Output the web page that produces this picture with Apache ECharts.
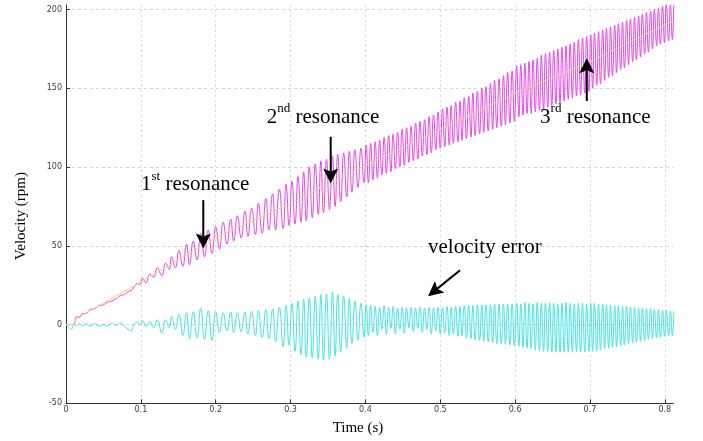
<!DOCTYPE html>
<html><head><meta charset="utf-8">
<script src="https://cdn.jsdelivr.net/npm/echarts@6/dist/echarts.min.js"></script>
<style>html,body{margin:0;padding:0;background:#fff}#main{width:703px;height:441px}</style>
</head><body><div id="main"></div>
<script>
// ---- data (time in ms, values in rpm) ----
const timeMs = [
  0,4,7,11,14,18,22,27,32,38,44,50,55,61,67,73,78,83,87,91,95,99,
  102,107,112,117,122,128,133,138,141,146,151,156,161,165,170,175,180,185,190,195,200,
  205,210,215,220,224,229,234,239,243,248,253,257,262,267,271,276,280,285,290,294,298,
  302,306,310,314,317.5,321,325,329,333,337,340.5,344,348,352,356,359.5,363,367,371,375,378.5,382,386,390,394,398,
  401,404,407,410,413,416,419,422,425,428,431,434,437,440,443,446,449,452,455,458,461,464,467,470,473,476,479,482,485,488,491,494,497,
  500,503,506,509,512,514.5,517.5,520.5,523.5,526.5,529,532,535,538,541,543.5,546.5,549.5,552.5,555.5,558,561,564,567,570,572.5,575.5,578.5,581.5,584.5,587,590,593,596,599,
  602,605,607.5,610.5,613,616,618.5,621.5,624,627,629.5,632.5,635,638,640.5,643.5,646,649,651.5,654.5,657,660,662.5,665.5,668,671,673.5,676.5,679,682,684.5,687.5,690,693,695.5,698.5,
  701,703.5,706,709,711.5,714,717,719.5,722,725,727.5,730,733,735.5,738,741,743.5,746,749,751.5,754,757,759.5,762,765,767.5,770,773,775.5,778,781,783.5,786,789,791.5,794,797,799.5,802,805,807.5,810,812
];
const errorRpm = [
  0,-2,-3,1,-1,0.5,-1,0.5,-1,0.5,-1,0,-1,1,-0.5,1,-1,-3,-4,0.5,1.5,-0.5,
  2.5,-1.5,2,-2,3,-5.5,3,-2,5,-3,6.5,-7,7.5,-9,8,-8.5,10.5,-9.5,9,-10,8,
  -5,7.5,-4,8,-5,7.5,-4.5,8,-6,8.5,-7,9,-8,9.5,-9,10,-11,11,-14,12,-13,
  13.5,-17,15,-19,16,-20.5,17,-21,18,-22,19,-22.5,19.5,-22,20.5,-20,19,-17.5,18,-15,16.5,-12,15,-10,13.5,-8,
  12.5,-7,12,-5,11.5,-7,11,-3,12,-6.5,11,-2.5,11.5,-6,10.5,-3,11,-5.5,10.5,-2,11,-4.5,10.5,-2.5,11,-5,10.5,-3,11,-6,10.5,-4,11,
  -6,11,-5,11.5,-7,11,-6,11.5,-7.5,11.5,-7,12,-8.5,12,-9,12,-9.5,12.5,-10,12.5,-10.5,12.5,-11,12.5,-11.5,13,-12,13,-12,13,-12.5,13,-13,13,-13.5,
  13.5,-14,13,-14.5,14,-15,13.5,-15.5,13,-16,14,-16.5,13.5,-17,13.5,-17,14,-17.5,13.5,-17.5,13,-17.5,13.5,-17.5,14,-17.5,13.5,-17.5,13,-17.5,13.5,-17.5,13.5,-17.5,13,-17,
  13.5,-17,13.5,-16.5,13,-16,13,-15.5,12.5,-15,12.5,-14.5,12,-14,12,-13.5,11.5,-13,11.5,-12,11,-11.5,11,-11,10.5,-10.5,10.5,-10,10,-9.5,10,-9,9.5,-8.5,9.5,-8,9,-7.5,9,-7,8.5,-7,8.5
];
const velocityRpm = [
  0,0,0,0.5,5,4.5,7,7,9.5,10,12,12.5,14,15,16.5,18.5,19,21,21.5,24,26,25.5,
  29.5,26.5,32,30,36,31,39,35,43,36,47,37,51,38,53,41,58,43,60,45,62,
  48,65,51,67,53,69,55,72,56,74,57,77,58,80,60,83,60,86,61,89,63,
  91,64,94,65,97,66,100,68,102,70,104,71,105,73,107,75,108,78,109,81,110,84,111,87,112,90,
  114,90,115,92,116,93,117,95,119,96,120,97,121,99,122,100,124,101,125,103,126,104,128,105,129,107,130,108,132,109,133,111,135,
  112,137,113,138,114,139,115,141,116,142,117,144,118,145,119,147,120,148,121,150,122,151,123,153,124,155,125,156,126,158,127,160,128,161,129,
  164,132,165,133,166,134,167,134,168,135,169,136,171,137,172,138,173,139,174,140,175,141,176,142,177,143,178,144,179,145,181,146,182,147,183,148,
  184,150,185,152,186,153,187,155,188,157,189,158,190,160,191,162,192,163,193,165,194,167,195,168,196,170,197,172,198,173,199,175,200,177,201,178,202,179,203,180,203,181,203
];
const commandTimeMs = [0,10,14,100,200,300,400,500,600,700,812];
const commandRpm    = [0,0,4,27,55,77,101,124,147,167,193];
const xTickStep = 0.1;
const yTickStep = 50;

// ---- annotations (data coordinates) ----
const annTexts = [
  {main:'1', sup:'st', rest:' resonance', at:[0.1002, 90.3]},
  {main:'2', sup:'nd', rest:' resonance', at:[0.2681, 133]},
  {main:'3', sup:'rd', rest:' resonance', at:[0.6333, 133]},
  {main:'velocity error', sup:'', rest:'', at:[0.4836, 50.4]}
];
const annArrows = [
  [[0.1834, 79], [0.1834, 48.3]],
  [[0.3536, 119.2], [0.3536, 89.6]],
  [[0.6957, 141.9], [0.6957, 169]],
  [[0.5264, 34.5], [0.4836, 18]]
];

const n = Math.min(timeMs.length, errorRpm.length, velocityRpm.length);
const errData = [], velData = [];
for (let i = 0; i < n; i++) {
  errData.push([timeMs[i] / 1000, errorRpm[i]]);
  velData.push([timeMs[i] / 1000, velocityRpm[i]]);
}
const cmdData = commandTimeMs.map((t, i) => [t / 1000, commandRpm[i]]);

const chart = echarts.init(document.getElementById('main'));
const tickFont = {fontFamily:'DejaVu Sans', fontSize:8, color:'#3c3c3c'};
chart.setOption({
  animation:false,
  backgroundColor:'#fff',
  grid:{left:66, right:29.7, top:4.8, bottom:37.7, containLabel:false},
  xAxis:{
    type:'value', min:0, max:0.8113, interval:xTickStep,
    axisLine:{show:true, onZero:false, lineStyle:{color:'#333', width:1}},
    axisTick:{show:true, inside:true, length:4, lineStyle:{color:'#333'}},
    axisLabel:Object.assign({margin:3, showMaxLabel:false}, tickFont),
    splitLine:{show:true, showMaxLine:false, lineStyle:{color:'#d4d4d4', type:[2,3], width:1}}
  },
  yAxis:{
    type:'value', min:-50, max:203, interval:yTickStep,
    axisLine:{show:true, onZero:false, lineStyle:{color:'#333', width:1}},
    axisTick:{show:true, inside:true, length:4, lineStyle:{color:'#333'}},
    axisLabel:Object.assign({margin:4, showMaxLabel:false}, tickFont),
    splitLine:{show:true, showMaxLine:false, showMinLine:false, lineStyle:{color:'#d4d4d4', type:[3,3], width:1}}
  },
  series:[
    {type:'line', name:'velocity', data:velData, showSymbol:false, smooth:0.5,
     lineStyle:{color:'#e445e4', width:1}, z:3},
    {type:'line', name:'command', data:cmdData, showSymbol:false,
     lineStyle:{color:'#f3cf8a', width:1}, z:4},
    {type:'line', name:'error', data:errData, showSymbol:false, smooth:0.5,
     lineStyle:{color:'#45e3e3', width:1}, z:3}
  ]
});

function px(p){ return chart.convertToPixel({gridIndex:0}, p); }
const graphics = [];
annArrows.forEach(a => {
  const p1 = px(a[0]), p2 = px(a[1]);
  let dx = p2[0]-p1[0], dy = p2[1]-p1[1];
  const len = Math.hypot(dx, dy); dx/=len; dy/=len;
  const nx = -dy, ny = dx, L = 15, W = 7.5, notch = 3;
  const bx = p2[0]-dx*L, by = p2[1]-dy*L;
  graphics.push({type:'line', shape:{x1:p1[0], y1:p1[1], x2:bx+dx*notch, y2:by+dy*notch},
    style:{stroke:'#000', lineWidth:2}, z:10});
  graphics.push({type:'polygon', shape:{points:[[p2[0],p2[1]],[bx+nx*W,by+ny*W],[bx+dx*notch,by+dy*notch],[bx-nx*W,by-ny*W]]},
    style:{fill:'#000'}, z:10});
});
annTexts.forEach(t => {
  const p = px(t.at);
  let txt = '{a|' + t.main + '}';
  if (t.sup) txt += '{s|' + t.sup + '}';
  if (t.rest) txt += '{a|' + t.rest + '}';
  graphics.push({type:'text', x:p[0], y:p[1], z:10,
    style:{text:txt, align:'left', verticalAlign:'middle', fill:'#000',
      rich:{a:{fontFamily:'Liberation Serif', fontSize:21, fill:'#000', verticalAlign:'bottom', lineHeight:25},
            s:{fontFamily:'Liberation Serif', fontSize:13, fill:'#000', verticalAlign:'top', lineHeight:25}}}});
});
graphics.push({type:'text', x:21, y:216, rotation:Math.PI/2, z:10,
  style:{text:'Velocity (rpm)', fontFamily:'Liberation Serif', fontSize:15, fill:'#000', align:'center', verticalAlign:'middle'}});
graphics.push({type:'text', x:358, y:428, z:10,
  style:{text:'Time (s)', fontFamily:'Liberation Serif', fontSize:15, fill:'#000', align:'center', verticalAlign:'middle'}});
chart.setOption({graphic:graphics});
</script></body></html>
